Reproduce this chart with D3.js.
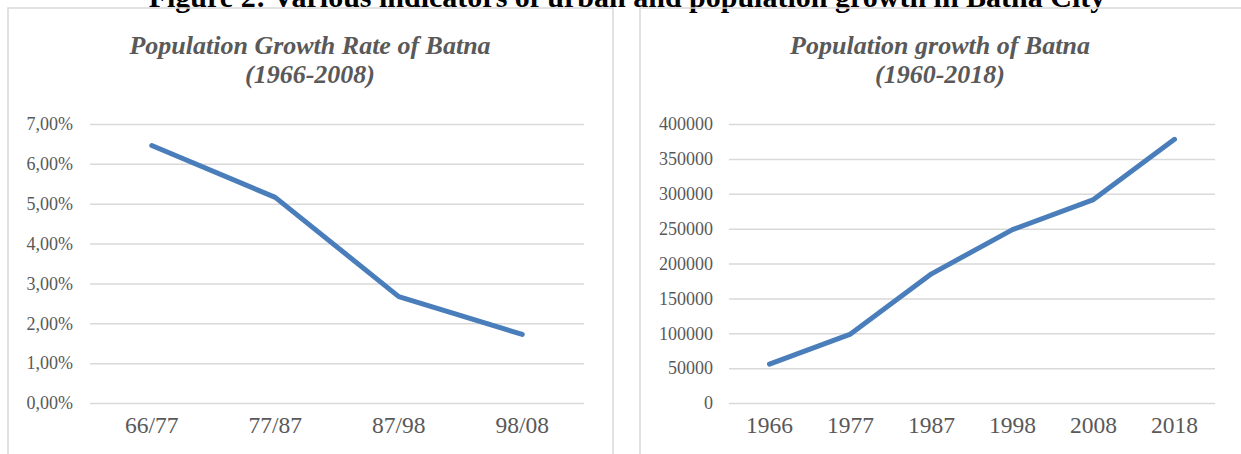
<!DOCTYPE html>
<html>
<head>
<meta charset="utf-8">
<script src="https://cdn.jsdelivr.net/npm/d3@7"></script>
<style>
body { margin: 0; background: #fff; }
svg { display: block; }
</style>
</head>
<body>
<svg id="chart" width="1241" height="454"></svg>
<script>
// rate chart (left)
const rateCats = ["66/77", "77/87", "87/98", "98/08"];
const rateVals = [0.0646, 0.0516, 0.0267, 0.0172];
const rateTicks = [0, 0.01, 0.02, 0.03, 0.04, 0.05, 0.06, 0.07];

// population chart (right)
const popYears = ["1966", "1977", "1987", "1998", "2008", "2018"];
const popVals = [55700, 98800, 185200, 248500, 291700, 378000];
const popTicks = [0, 50000, 100000, 150000, 200000, 250000, 300000, 350000, 400000];

const svg = d3.select("#chart");
const grey = "#595959",
	grid = "#d9d9d9",
	blue = "#4a7ebb";

svg.append("text")
	.attr("x", 627).attr("y", 7)
	.attr("text-anchor", "middle")
	.style("font-family", "'Liberation Serif', serif")
	.style("font-weight", "bold")
	.style("font-size", "30px")
	.text("Figure 2: Various indicators of urban and population growth in Batna City");

function panel(o) {
	const g = svg.append("g");

	// frame, right side only drawn for left panel
	g.append("path")
		.attr("d", o.frame)
		.attr("fill", "none")
		.attr("stroke", grid)
		.attr("stroke-width", 1.5);

	const t = g.append("text")
		.attr("text-anchor", "middle")
		.attr("fill", grey)
		.style("font-family", "'Liberation Serif', serif")
		.style("font-weight", "bold")
		.style("font-style", "italic")
		.style("font-size", "26px");
	o.title.forEach((s, i) => {
		t.append("tspan").attr("x", o.cx).attr("y", 54 + i * 29).text(s);
	});

	const x = d3.scaleBand().domain(o.cats).range([o.x0, o.x1]);
	const y = d3.scaleLinear().domain([0, d3.max(o.ticks)]).range([403, 124]);

	const yAxis = g.append("g")
		.attr("transform", `translate(${o.x0},0)`)
		.call(d3.axisLeft(y).tickValues(o.ticks).tickSize(-(o.x1 - o.x0)).tickPadding(o.pad).tickFormat(o.fmt));
	yAxis.select(".domain").remove();
	yAxis.selectAll("line").attr("stroke", grid).attr("stroke-width", 1.5);
	yAxis.selectAll("text")
		.attr("fill", grey)
		.style("font-family", "'Liberation Serif', serif")
		.style("font-size", "18px");

	const xAxis = g.append("g")
		.attr("transform", "translate(0,403)")
		.call(d3.axisBottom(x).tickSize(0).tickPadding(13));
	xAxis.select(".domain").remove();
	xAxis.selectAll("text")
		.attr("fill", grey)
		.style("font-family", "'Liberation Serif', serif")
		.style("font-size", "23.5px");

	const line = d3.line()
		.x((d, i) => x(o.cats[i]) + x.bandwidth() / 2)
		.y(d => y(d));
	g.append("path")
		.datum(o.vals)
		.attr("d", line)
		.attr("fill", "none")
		.attr("stroke", blue)
		.attr("stroke-width", 5)
		.attr("stroke-linecap", "round")
		.attr("stroke-linejoin", "round");
}

panel({
	frame: "M8,454V8H613V454",
	cx: 310,
	title: ["Population Growth Rate of Batna", "(1966-2008)"],
	cats: rateCats, vals: rateVals, ticks: rateTicks,
	x0: 90, x1: 584, pad: 17,
	fmt: d => d3.format(".2%")(d).replace(".", ",")
});

panel({
	frame: "M640,454V8H1241",
	cx: 940,
	title: ["Population growth of Batna", "(1960-2018)"],
	cats: popYears, vals: popVals, ticks: popTicks,
	x0: 729, x1: 1215, pad: 16,
	fmt: d3.format("d")
});
</script>
</body>
</html>
